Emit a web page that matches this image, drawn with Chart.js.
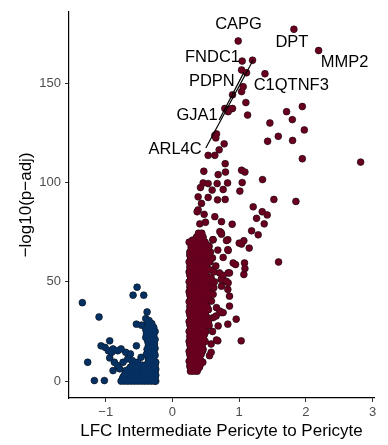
<!DOCTYPE html>
<html>
<head>
<meta charset="utf-8">
<script src="https://cdn.jsdelivr.net/npm/chart.js@4.4.1/dist/chart.umd.min.js"></script>
<style>
  html, body { margin: 0; padding: 0; background: #fff; }
</style>
</head>
<body>
<canvas id="volcano" width="388" height="445"></canvas>
<script>
// tick positions
const xTicks = [-1, 0, 1, 2, 3];
const yTicks = [0, 50, 100, 150];

// genes up in intermediate pericytes [LFC, -log10(padj)]
const upPoints = [
  [0.985,171.3],[1.82,177.2],[2.19,166.5],[1.045,161.2],[1.20,161.6],[1.036,156.7],[1.11,155.3],
  [1.386,154.8],[1.06,148.3],[1.036,145.8],[0.90,144.2],[1.10,140.3],[1.946,138.3],[1.71,135.7],
  [0.785,137.3],[0.86,137],[0.835,135.7],[0.90,137.3],[1.126,134],[1.796,131.7],[1.46,130],
  [1.976,126.5],[1.586,123.3],[1.426,120.8],[1.80,121.2],[0.66,124.5],[0.635,123.7],[0.65,122.5],
  [0.775,119.5],[0.70,116.5],[0.535,113.7],[0.635,113.7],[1.946,112],[2.82,110.3],[0.79,109.5],
  [0.47,105.7],[0.685,104],[0.795,105.3],[1.036,106.2],[1.086,105.3],[1.35,101.5],[1.045,100],
  [0.826,99.8],[0.67,99.5],[0.46,99.8],[0.535,99.5],[0.42,97.5],[0.595,96.2],[0.76,96.5],[1.01,95.7],
  [0.385,92.8],[0.535,92.5],[0.675,91.3],[0.79,91.5],[1.52,91.5],[1.85,90.5],[0.435,89.5],
  [0.385,86.2],[0.37,85.3],[1.21,87.8],[1.345,85.3],[1.42,83.7],[0.475,84],[0.635,82.8],[0.735,80.3],
  [1.26,82],[1.375,79.2],[0.41,79.2],[0.495,80],[0.895,79],[1.186,75.7],[1.285,73.7],[0.71,75.3],
  [0.735,74],[0.81,70.8],[0.61,71.2],[1.07,70.7],[1.036,69],[1.15,67],[0.835,65.8],[0.76,62.3],
  [1.59,60],[0.91,59.5],[0.946,58.7],[1.086,56.7],[1.07,53.7],[0.835,54.5],[0.76,53.3],[0.73,74.8],
  [0.83,71.2],[1.0,69.5],[0.605,71.2],[0.83,66.2],[1.08,59.5],[0.705,54.5],[0.855,54.5],[0.73,51.2],
  [0.805,50.3],[0.83,46.2],[0.855,42.8],[0.835,49.5],[0.735,47.8],[0.855,37.8],[0.73,34.5],
  [0.655,32.8],[0.76,34.5],[0.955,31.2],[0.83,28.7],[0.685,27.8],[0.61,43.7],[0.585,40.3],[0.66,37],
  [0.71,35.3],[0.61,32],[0.68,20.3],[0.58,18.7],[0.66,20.7],[0.58,14.5],[0.555,12.8],[1.03,20.3],
  [0.455,9.5],[0.405,7],[0.60,25],[0.55,28],[0.62,47],[0.58,52],[0.65,58],[0.60,62],[0.68,66],
  [0.55,68],[0.57,56],[0.63,50],[0.56,44],[0.54,36],
  // dense column
  [0.27,5],[0.32,5],[0.37,5],
  [0.26,7.5],[0.30,7.5],[0.35,7.5],[0.40,7.5],
  [0.25,10],[0.29,10],[0.34,10],[0.39,10],[0.43,10],
  [0.27,12.5],[0.31,12.5],[0.36,12.5],[0.41,12.5],
  [0.25,15],[0.30,15],[0.35,15],[0.40,15],[0.45,15],
  [0.27,17.5],[0.32,17.5],[0.37,17.5],[0.42,17.5],
  [0.25,20],[0.29,20],[0.34,20],[0.39,20],[0.44,20],[0.49,20],
  [0.26,22.5],[0.31,22.5],[0.36,22.5],[0.41,22.5],[0.46,22.5],
  [0.25,25],[0.30,25],[0.35,25],[0.40,25],[0.45,25],[0.50,25],
  [0.27,27.5],[0.32,27.5],[0.37,27.5],[0.42,27.5],[0.47,27.5],
  [0.25,30],[0.30,30],[0.34,30],[0.39,30],[0.44,30],[0.49,30],[0.54,30],
  [0.27,32.5],[0.32,32.5],[0.36,32.5],[0.41,32.5],[0.46,32.5],[0.51,32.5],
  [0.25,35],[0.29,35],[0.34,35],[0.39,35],[0.44,35],[0.48,35],
  [0.26,37.5],[0.31,37.5],[0.36,37.5],[0.41,37.5],[0.46,37.5],[0.52,37.5],
  [0.25,40],[0.30,40],[0.35,40],[0.40,40],[0.45,40],[0.50,40],
  [0.27,42.5],[0.32,42.5],[0.37,42.5],[0.42,42.5],[0.47,42.5],[0.53,42.5],
  [0.25,45],[0.29,45],[0.34,45],[0.39,45],[0.44,45],[0.49,45],
  [0.26,47.5],[0.31,47.5],[0.36,47.5],[0.41,47.5],[0.46,47.5],[0.55,47.5],
  [0.25,50],[0.30,50],[0.35,50],[0.40,50],[0.45,50],[0.50,50],[0.58,50],
  [0.27,52.5],[0.32,52.5],[0.37,52.5],[0.42,52.5],[0.47,52.5],[0.52,52.5],
  [0.25,55],[0.29,55],[0.34,55],[0.39,55],[0.44,55],[0.49,55],[0.62,55],
  [0.26,57.5],[0.31,57.5],[0.36,57.5],[0.41,57.5],[0.46,57.5],[0.51,57.5],
  [0.25,60],[0.30,60],[0.35,60],[0.40,60],[0.45,60],[0.50,60],[0.56,60],
  [0.27,62.5],[0.32,62.5],[0.37,62.5],[0.42,62.5],[0.47,62.5],[0.53,62.5],
  [0.26,65],[0.31,65],[0.36,65],[0.41,65],[0.46,65],[0.51,65],[0.57,65],
  [0.28,67.5],[0.33,67.5],[0.38,67.5],[0.43,67.5],[0.48,67.5],[0.54,67.5],
  [0.25,70],[0.33,70],[0.38,70],[0.43,70],[0.49,70],
  [0.36,72.5],[0.41,72.5],[0.46,72.5],[0.39,74.5],[0.44,74.5],
  [0.28,6],[0.33,6],[0.38,6],
  [0.27,8.5],[0.32,8.5],[0.37,8.5],[0.42,8.5],
  [0.27,11],[0.32,11],[0.37,11],[0.41,11],
  [0.26,13.5],[0.33,13.5],[0.38,13.5],[0.43,13.5],
  [0.27,16],[0.32,16],[0.37,16],[0.42,16],[0.46,16],
  [0.26,18.5],[0.30,18.5],[0.35,18.5],[0.40,18.5],[0.45,18.5],
  [0.27,21],[0.32,21],[0.37,21],[0.42,21],[0.47,21],
  [0.28,23.5],[0.33,23.5],[0.38,23.5],[0.43,23.5],[0.48,23.5],
  [0.27,26],[0.32,26],[0.37,26],[0.42,26],[0.47,26],
  [0.26,28.5],[0.30,28.5],[0.35,28.5],[0.40,28.5],[0.45,28.5],[0.50,28.5],
  [0.27,31],[0.32,31],[0.37,31],[0.42,31],[0.47,31],[0.52,31],
  [0.26,33.5],[0.30,33.5],[0.35,33.5],[0.39,33.5],[0.44,33.5],[0.49,33.5],
  [0.27,36],[0.32,36],[0.37,36],[0.42,36],[0.46,36],[0.51,36],
  [0.28,38.5],[0.33,38.5],[0.38,38.5],[0.43,38.5],[0.49,38.5],
  [0.27,41],[0.32,41],[0.37,41],[0.42,41],[0.48,41],
  [0.26,43.5],[0.30,43.5],[0.35,43.5],[0.40,43.5],[0.45,43.5],[0.50,43.5],
  [0.27,46],[0.32,46],[0.37,46],[0.42,46],[0.47,46],[0.52,46],
  [0.28,48.5],[0.33,48.5],[0.38,48.5],[0.43,48.5],[0.49,48.5],
  [0.27,51],[0.32,51],[0.37,51],[0.42,51],[0.48,51],[0.54,51],
  [0.26,53.5],[0.30,53.5],[0.35,53.5],[0.40,53.5],[0.45,53.5],[0.50,53.5],
  [0.27,56],[0.32,56],[0.37,56],[0.42,56],[0.47,56],[0.53,56],
  [0.28,58.5],[0.33,58.5],[0.38,58.5],[0.43,58.5],[0.49,58.5],
  [0.27,61],[0.32,61],[0.37,61],[0.42,61],[0.48,61],[0.53,61],
  [0.26,63.5],[0.30,63.5],[0.35,63.5],[0.40,63.5],[0.45,63.5],[0.50,63.5],[0.55,63.5],
  [0.28,66],[0.33,66],[0.38,66],[0.43,66],[0.49,66],
  [0.30,68.5],[0.35,68.5],[0.40,68.5],[0.46,68.5],[0.51,68.5],
  [0.30,71],[0.35,71],[0.41,71],[0.46,71],[0.38,73],[0.43,73]
];

// genes down in intermediate pericytes
const downPoints = [
  [-0.53,47.3],[-0.59,43.3],[-0.43,43.3],[-1.35,39.5],[-1.10,32.3],[-0.38,34.8],
  [-0.54,28.7],[-0.465,28.2],
  [-0.40,31.5],[-0.35,30.5],[-0.31,29],[-0.38,28],[-0.33,27.5],[-0.28,27],
  [-0.40,26],[-0.35,25.5],[-0.30,25],[-0.39,24],[-0.34,23.5],[-0.28,23],
  [-0.40,22],[-0.35,21.5],[-0.29,21],[-0.37,20],[-0.32,19.5],[-0.27,19],
  [-0.36,18],[-0.30,17],[-0.26,16.5],[-0.38,16],[-0.33,15],[-0.27,14],
  [-0.39,13.5],[-0.34,12.5],[-0.28,12],[-0.36,11],[-0.30,10],[-0.25,9.5],
  [-0.94,20.3],[-1.07,17.8],[-1.01,17],[-0.96,15.3],[-0.91,14.5],[-0.89,16.2],[-0.82,15.3],
  [-0.77,16.2],[-0.70,14.5],[-0.63,13.7],[-0.54,17.8],[-0.94,11.7],[-1.27,9.5],[-0.87,9.5],
  [-0.82,7.8],[-0.74,9.5],[-0.67,11.2],[-0.60,10.3],[-0.52,9.5],[-0.47,12],[-0.89,5.3],
  [-0.79,6.2],[-0.70,5.3],[-0.63,7],[-0.49,6.2],[-1.17,0.3],[-1.02,0.3],
  [-0.77,0],[-0.72,0],[-0.67,0],[-0.62,0],[-0.57,0],[-0.52,0],[-0.47,0],[-0.42,0],[-0.37,0],
  [-0.32,0],[-0.27,0],[-0.25,0],
  [-0.74,2],[-0.66,2],[-0.58,2],[-0.50,2],[-0.44,2],[-0.38,2],[-0.31,2],[-0.26,2],
  [-0.70,4],[-0.62,4],[-0.55,4],[-0.47,4],[-0.40,4],[-0.34,4],[-0.28,4],
  [-0.65,6],[-0.58,6],[-0.43,6],[-0.36,6],[-0.29,6],[-0.25,6],
  [-0.60,8],[-0.53,8],[-0.45,8],[-0.38,8],[-0.31,8],[-0.26,8],
  [-0.75,1],[-0.70,1],[-0.64,1],[-0.54,1],[-0.45,1],[-0.40,1],[-0.35,1],[-0.29,1],
  [-0.72,3],[-0.60,3],[-0.52,3],[-0.42,3],[-0.36,3],[-0.30,3],[-0.25,3],
  [-0.56,5],[-0.45,5],[-0.38,5],[-0.32,5],[-0.26,5],
  [-0.55,7],[-0.41,7],[-0.34,7],[-0.27,7],
  [-0.37,9],[-0.32,11.5],[-0.26,13],[-0.36,14.5],[-0.29,15.5],[-0.34,17.5],[-0.28,18],
  [-0.33,20.5],[-0.26,21],[-0.37,23],[-0.31,24],[-0.26,25],[-0.36,27],[-0.37,29.5]
];

// labelled genes
const geneNames = ['CAPG', 'DPT', 'MMP2', 'FNDC1', 'PDPN', 'C1QTNF3', 'GJA1', 'ARL4C'];
const geneLabelX = [0.99, 1.79, 2.58, 0.60, 0.59, 1.78, 0.37, 0.04];
const geneLabelY = [179.5, 170.7, 160.3, 162.8, 150.7, 148.7, 133.7, 116.5];

// leader lines [x1, y1, x2, y2]
const leaderLines = [
  [0.50, 117.4, 1.21, 161.7],
  [0.70, 131.5, 1.07, 155.5]
];

const upColor = '#67001f';
const downColor = '#053061';

const geneLabels = {
  id: 'geneLabels',
  afterDatasetsDraw(chart) {
    const { ctx, scales: { x, y } } = chart;
    ctx.save();
    ctx.strokeStyle = '#000';
    ctx.lineWidth = 1.2;
    leaderLines.forEach(s => {
      ctx.beginPath();
      ctx.moveTo(x.getPixelForValue(s[0]), y.getPixelForValue(s[1]));
      ctx.lineTo(x.getPixelForValue(s[2]), y.getPixelForValue(s[3]));
      ctx.stroke();
    });
    ctx.fillStyle = '#000';
    ctx.font = '16.5px "Liberation Sans", Arial, sans-serif';
    ctx.textAlign = 'center';
    ctx.textBaseline = 'middle';
    geneNames.forEach((name, i) => {
      ctx.fillText(name, x.getPixelForValue(geneLabelX[i]), y.getPixelForValue(geneLabelY[i]));
    });
    ctx.restore();
  }
};

const toXY = arr => arr.map(p => ({ x: p[0], y: p[1] }));
const tickFont = { family: '"Liberation Sans", Arial, sans-serif', size: 13 };
const titleFont = { family: '"Liberation Sans", Arial, sans-serif', size: 17 };

new Chart(document.getElementById('volcano'), {
  type: 'scatter',
  data: {
    datasets: [
      // outlined points (drawn first)
      { label: 'down', data: toXY(downPoints), backgroundColor: downColor, borderColor: '#000',
        borderWidth: 0.6, pointRadius: 3.4, order: 2 },
      { label: 'up', data: toXY(upPoints), backgroundColor: upColor, borderColor: '#000',
        borderWidth: 0.6, pointRadius: 3.4, order: 2 },
      // fill pass so overlapping points merge like the dense clouds in the original
      { label: 'down fill', data: toXY(downPoints), backgroundColor: downColor,
        borderWidth: 0, pointRadius: 2.9, order: 1 },
      { label: 'up fill', data: toXY(upPoints), backgroundColor: upColor,
        borderWidth: 0, pointRadius: 2.9, order: 1 }
    ]
  },
  options: {
    responsive: false,
    animation: false,
    layout: { padding: { top: 9, right: 14, left: 0, bottom: 0 } },
    plugins: {
      legend: { display: false },
      tooltip: { enabled: false }
    },
    scales: {
      x: {
        type: 'linear',
        min: -1.55,
        max: 3.02,
        afterBuildTicks: s => { s.ticks = xTicks.map(v => ({ value: v })); },
        afterFit: s => { s.height = 47; },
        grid: { drawOnChartArea: false, drawTicks: true, tickLength: 4, color: '#333' },
        border: { display: true, color: '#000', width: 1.2 },
        ticks: {
          color: '#4d4d4d', font: tickFont, padding: 3, maxRotation: 0, autoSkip: false,
          callback: v => v < 0 ? '\u2212' + Math.abs(v) : String(v)
        },
        title: {
          display: true, text: 'LFC Intermediate Pericyte to Pericyte',
          color: '#000', font: titleFont, padding: { top: 0, bottom: 3 }
        }
      },
      y: {
        type: 'linear',
        min: -8.5,
        max: 186,
        afterBuildTicks: s => { s.ticks = yTicks.map(v => ({ value: v })); },
        afterFit: s => { s.width = 69; },
        grid: { drawOnChartArea: false, drawTicks: true, tickLength: 4, color: '#333' },
        border: { display: true, color: '#000', width: 1.2 },
        ticks: { color: '#4d4d4d', font: tickFont, padding: 4, autoSkip: false },
        title: {
          display: true, text: '\u2212log10(p\u2212adj)',
          color: '#000', font: titleFont, padding: { top: 16, bottom: 0 }
        }
      }
    }
  },
  plugins: [geneLabels]
});
</script>
</body>
</html>
